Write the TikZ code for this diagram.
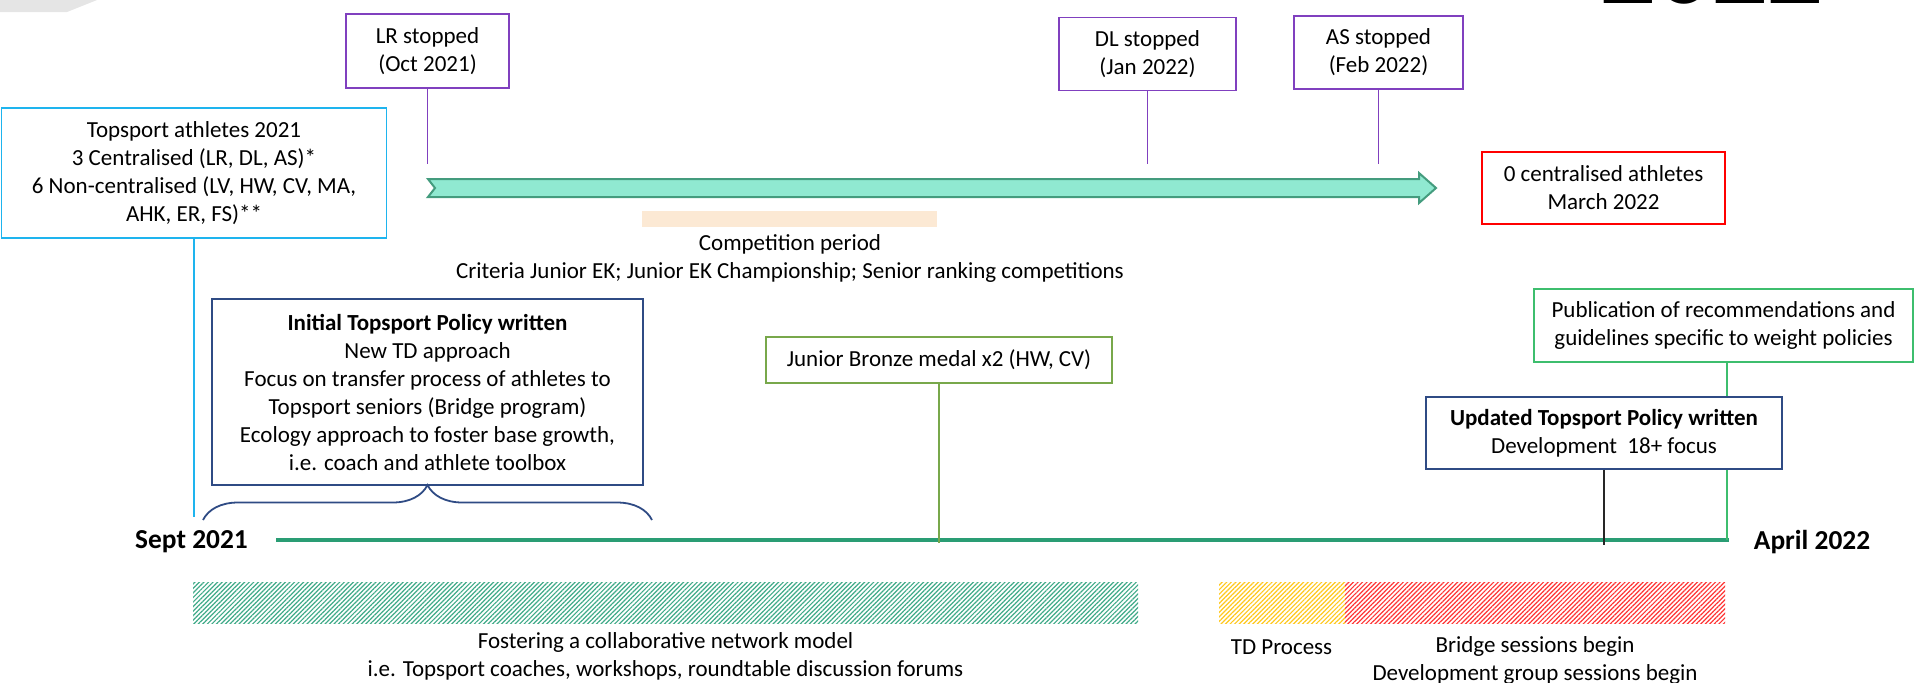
\documentclass[tikz,border=0pt]{standalone}
\usepackage{fontspec}
\setmainfont{Carlito}
\usetikzlibrary{decorations.pathreplacing,patterns.meta}

\definecolor{stopviolet}{HTML}{8040BF}
\definecolor{athblue}{HTML}{1EB4EE}
\definecolor{navy}{HTML}{2F4B84}
\definecolor{olive}{HTML}{78A84B}
\definecolor{pubgreen}{HTML}{3DBE6E}
\definecolor{lineteal}{HTML}{2A9D74}
\definecolor{arrowfill}{HTML}{90E9D1}
\definecolor{arrowedge}{HTML}{449C7E}
\definecolor{peach}{HTML}{FCE9D4}
\definecolor{hatchgreen}{HTML}{3FAA88}
\definecolor{hatchyellow}{HTML}{FFC81E}
\definecolor{hatchred}{HTML}{FF3535}

\begin{document}
\begin{tikzpicture}[x=0.5pt,y=-0.5pt,
  txt/.style={font=\fontsize{11.5}{14}\selectfont, align=center, inner sep=0pt},
  evbox/.style={txt, draw, line width=0.9pt, fill=white},
  datelabel/.style={font=\bfseries\fontsize{13.7}{16}\selectfont, inner sep=0pt},
  stemline/.style={line width=0.8pt},
  hatchfill/.style={pattern={Lines[angle=45,distance=1.6pt,line width=0.6pt]}}]
\useasboundingbox (0,0) rectangle (1915,682);
% corner left over from the slide
\fill[black!10] (0,0) -- (97,0) -- (67,12) -- (0,12) -- cycle;
\begin{scope}
\clip (0,0) rectangle (1915,682);
\node[font=\bfseries\fontsize{55}{60}\selectfont, anchor=base, inner sep=0pt] (year) at (1712,3) {2022};
\end{scope}
% athletes who stopped
\node[evbox, draw=stopviolet, minimum width=81.5pt, minimum height=37pt] (lr) at (427.5,51) {LR stopped\\(Oct 2021)};
\node[evbox, draw=stopviolet, minimum width=88.5pt, minimum height=36.5pt] (dl) at (1147.5,54) {DL stopped\\(Jan 2022)};
\node[evbox, draw=stopviolet, minimum width=84.5pt, minimum height=36.5pt] (as) at (1378.5,52.5) {AS stopped\\(Feb 2022)};
\coordinate (lrend) at (427.5,164);
\coordinate (dlend) at (1147.5,164);
\coordinate (asend) at (1378.5,164);
\draw[stemline, stopviolet] (lr) -- (lrend);
\draw[stemline, stopviolet] (dl) -- (dlend);
\draw[stemline, stopviolet] (as) -- (asend);
\node[evbox, draw=athblue, minimum width=192.5pt, minimum height=65pt] (ath) at (194,173) {Topsport athletes 2021\\3 Centralised (LR, DL, AS)*\\6 Non-centralised (LV, HW, CV, MA,\\AHK, ER, FS)**};
% centralised period
\fill[arrowfill, draw=arrowedge, line width=1pt] (428,179) -- (1419,179) -- (1419,173) -- (1436,188) -- (1419,203) -- (1419,197) -- (428,197) -- (435,188) -- cycle;
\node[evbox, draw=red, minimum width=121.5pt, minimum height=36pt] (zero) at (1603.5,188) {0 centralised athletes\\March 2022};
\fill[peach] (642,211) rectangle (937,227);
\node[txt] (comp) at (790,258) {Competition period\\Criteria Junior EK; Junior EK Championship; Senior ranking competitions};
% timeline
\coordinate (tl0) at (276,540);
\coordinate (tl1) at (1729,540);
\draw[lineteal, line width=1.7pt] (tl0) -- (tl1);
\node[datelabel] (sept) at (191.5,542) {Sept 2021};
\node[datelabel] (april) at (1812,542) {April 2022};
\coordinate (athend) at (194,517);
\draw[stemline, athblue] (ath) -- (athend);
\node[evbox, draw=navy, minimum width=215.5pt, minimum height=93pt] (init) at (427.5,392) {\textbf{Initial Topsport Policy written}\\New TD approach\\Focus on transfer process of athletes to\\Topsport seniors (Bridge program)\\Ecology approach to foster base growth,\\i.e. coach and athlete toolbox};
\coordinate (brl) at (203,520);
\coordinate (brr) at (652,520);
\draw[navy, line width=0.9pt, decorate, decoration={brace, amplitude=17.5pt}] (brl) -- (brr);
\node[evbox, draw=olive, minimum width=173pt, minimum height=23pt] (bronze) at (939,360) {Junior Bronze medal x2 (HW, CV)};
\coordinate (bronzeend) at (939,543);
\draw[stemline, olive] (bronze) -- (bronzeend);
\node[evbox, draw=pubgreen, minimum width=189.5pt, minimum height=36.5pt] (pub) at (1723.5,325.5) {Publication of recommendations and\\guidelines specific to weight policies};
\coordinate (pubend) at (1727,540);
\draw[stemline, pubgreen] (pubend |- pub.south) -- (pubend);
\node[evbox, draw=navy, minimum width=178pt, minimum height=36pt] (upd) at (1604,433) {\textbf{Updated Topsport Policy written}\\Development\ \ 18+ focus};
\coordinate (updend) at (1604,545);
\draw[stemline, black!85] (upd) -- (updend);
% running programmes
\fill[hatchfill, pattern color=hatchgreen] (193,582) rectangle (1138,623);
\fill[hatchfill, pattern color=hatchyellow] (1219,582) rectangle (1345,623);
\fill[hatchfill, pattern color=hatchred] (1345,582) rectangle (1725,623);
\node[txt] (foster) at (665.5,656) {Fostering a collaborative network model\\i.e. Topsport coaches, workshops, roundtable discussion forums};
\node[txt] (tdproc) at (1281.5,647) {TD Process};
\node[txt] (bridge) at (1535,660) {Bridge sessions begin\\Development group sessions begin};
\end{tikzpicture}
\end{document}
